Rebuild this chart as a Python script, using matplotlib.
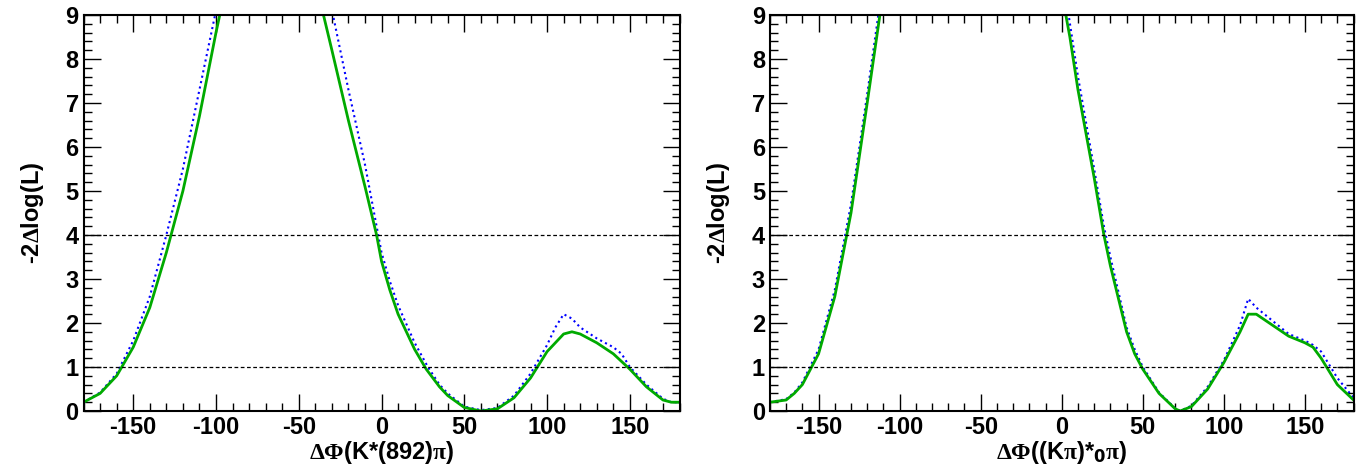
import numpy as np
import matplotlib
matplotlib.use("Agg")
import matplotlib.pyplot as plt
from matplotlib.ticker import MultipleLocator

plt.rcParams['font.family'] = ['Liberation Sans', 'DejaVu Sans']
plt.rcParams['font.weight'] = 'bold'
plt.rcParams['axes.unicode_minus'] = False
plt.rcParams['mathtext.fontset'] = 'custom'
plt.rcParams['mathtext.rm'] = 'Liberation Serif'
plt.rcParams['mathtext.it'] = 'Liberation Serif'

# left panel: K*(892) pi
l_green_a_x = [-180, -170, -160, -150, -140, -130, -120, -110, -100, -96]
l_green_a_y = [0.2, 0.4, 0.8, 1.45, 2.35, 3.6, 5.0, 6.7, 8.6, 9.3]
l_green_b_x = [-37, -30, -20, -10, -3, 0, 5, 10, 20, 27, 35, 40, 50, 60, 70, 80, 90, 100, 110, 115, 120, 130, 140, 150, 160, 170, 175, 180]
l_green_b_y = [9.3, 8.2, 6.6, 5.1, 4.0, 3.4, 2.75, 2.2, 1.4, 0.95, 0.55, 0.35, 0.08, 0.0, 0.05, 0.3, 0.75, 1.35, 1.75, 1.8, 1.75, 1.55, 1.3, 0.95, 0.55, 0.25, 0.2, 0.2]
l_blue_a_x = [-180, -170, -160, -150, -140, -130, -120, -110, -100, -98]
l_blue_a_y = [0.2, 0.42, 0.85, 1.6, 2.6, 4.0, 5.5, 7.3, 9.1, 9.3]
l_blue_b_x = [-31, -20, -10, -2, 0, 5, 10, 20, 28, 35, 40, 50, 60, 70, 80, 90, 100, 105, 110, 115, 120, 130, 140, 145, 150, 160, 170, 175, 180]
l_blue_b_y = [9.3, 7.3, 5.6, 4.0, 3.6, 2.95, 2.4, 1.55, 1.0, 0.6, 0.4, 0.1, 0.02, 0.07, 0.35, 0.85, 1.5, 1.9, 2.2, 2.1, 1.9, 1.65, 1.45, 1.3, 1.0, 0.6, 0.28, 0.2, 0.2]

# right panel: (K pi)*_0 pi
r_green_a_x = [-180, -170, -165, -160, -150, -140, -130, -120, -111]
r_green_a_y = [0.2, 0.25, 0.4, 0.6, 1.3, 2.6, 4.5, 7.0, 9.3]
r_green_b_x = [1, 5, 10, 20, 26, 30, 40, 45, 50, 60, 70, 73, 80, 90, 100, 110, 115, 120, 130, 140, 150, 155, 160, 170, 180]
r_green_b_y = [9.3, 8.5, 7.3, 5.3, 4.0, 3.3, 1.8, 1.3, 0.95, 0.4, 0.05, 0.0, 0.1, 0.5, 1.1, 1.8, 2.2, 2.2, 1.95, 1.7, 1.55, 1.45, 1.2, 0.6, 0.25]
r_blue_a_x = [-180, -170, -165, -160, -150, -140, -130, -120, -112]
r_blue_a_y = [0.2, 0.27, 0.42, 0.65, 1.4, 2.75, 4.7, 7.2, 9.3]
r_blue_b_x = [3, 10, 20, 26, 30, 40, 45, 50, 60, 70, 73, 80, 90, 100, 110, 115, 120, 130, 140, 150, 155, 160, 170, 180]
r_blue_b_y = [9.3, 7.6, 5.5, 4.2, 3.5, 1.9, 1.4, 1.0, 0.42, 0.06, 0.0, 0.12, 0.55, 1.15, 1.95, 2.55, 2.35, 2.05, 1.75, 1.6, 1.5, 1.35, 0.75, 0.3]

fig = plt.figure(figsize=(13.7, 4.66), dpi=100)
ax1 = fig.add_axes([0.061, 0.118, 0.435, 0.85])
ax2 = fig.add_axes([0.562, 0.118, 0.426, 0.85])

panels = [
    (ax1, l_green_a_x, l_green_a_y, l_green_b_x, l_green_b_y, l_blue_a_x, l_blue_a_y, l_blue_b_x, l_blue_b_y,
     r'$\Delta\Phi$(K*(892)$\pi$)'),
    (ax2, r_green_a_x, r_green_a_y, r_green_b_x, r_green_b_y, r_blue_a_x, r_blue_a_y, r_blue_b_x, r_blue_b_y,
     r'$\Delta\Phi$((K$\pi$)*$_{\mathbf{0}}$$\pi$)'),
]

for ax, gax, gay, gbx, gby, bax, bay, bbx, bby, xlab in panels:
    ax.plot(bax, bay, color='blue', ls=':', lw=1.5)
    ax.plot(bbx, bby, color='blue', ls=':', lw=1.5)
    ax.plot(gax, gay, color='#00aa00', lw=2)
    ax.plot(gbx, gby, color='#00aa00', lw=2)
    ax.axhline(1, color='black', ls='--', lw=0.9, dashes=(3, 2))
    ax.axhline(4, color='black', ls='--', lw=0.9, dashes=(3, 2))
    ax.set_xlim(-180, 180)
    ax.set_ylim(0, 9)
    ax.xaxis.set_major_locator(MultipleLocator(50))
    ax.xaxis.set_minor_locator(MultipleLocator(10))
    ax.yaxis.set_major_locator(MultipleLocator(1))
    ax.yaxis.set_minor_locator(MultipleLocator(0.2))
    ax.tick_params(which='both', direction='in', top=True, right=True, labelsize=17, width=1)
    ax.tick_params(which='major', length=12)
    ax.tick_params(which='minor', length=6)
    for s in ax.spines.values():
        s.set_linewidth(1.5)
    ax.set_xlabel(xlab, fontsize=17, fontweight='bold', labelpad=0)
    ax.set_ylabel(r'-2$\Delta$log(L)', fontsize=17, fontweight='bold', labelpad=14)

fig.savefig('out.png', dpi=100)
